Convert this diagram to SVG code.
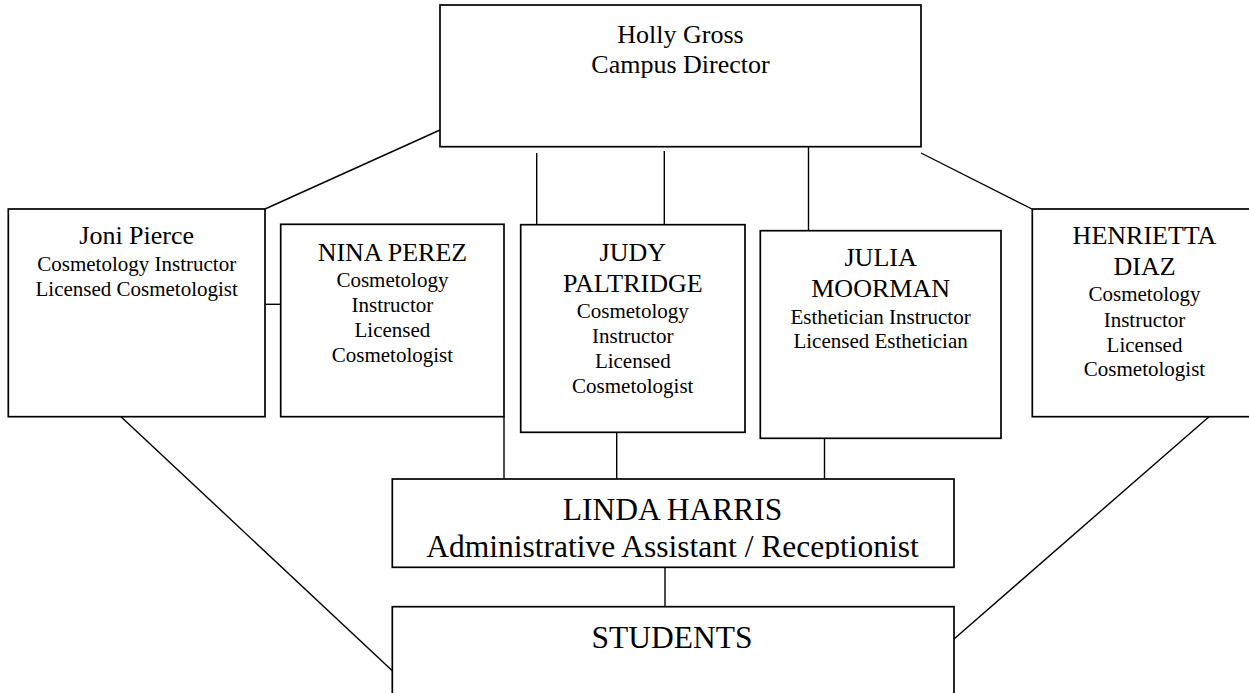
<svg xmlns="http://www.w3.org/2000/svg" width="1249" height="693" viewBox="0 0 1249 693">
<style>
.box{fill:#fff;stroke:#000;stroke-width:1.7}
.ln{stroke:#000;stroke-width:1.4;fill:none}
text{font-family:"Liberation Serif","Times New Roman",serif;fill:#000;text-anchor:middle}
.nm{font-size:26px}
.sb{font-size:21px}
.big{font-size:31.5px}
</style>
<defs>
<clipPath id="lindaClip"><rect x="393" y="479" width="561" height="80"/></clipPath>
</defs>
<rect width="1249" height="693" fill="#fff"/>
<g id="connectors">
<line class="ln" x1="440" y1="130" x2="265" y2="209"/>
<line class="ln" x1="921" y1="153" x2="1032" y2="209"/>
<line class="ln" x1="536.7" y1="153" x2="536.7" y2="224.7"/>
<line class="ln" x1="664.3" y1="151" x2="664.3" y2="224.7"/>
<line class="ln" x1="808.5" y1="146" x2="808.5" y2="230.7"/>
<line class="ln" x1="265" y1="304.3" x2="280.7" y2="304.3"/>
<line class="ln" x1="504" y1="416.7" x2="504" y2="479"/>
<line class="ln" x1="616.7" y1="432.3" x2="616.7" y2="479"/>
<line class="ln" x1="824.5" y1="438.3" x2="824.5" y2="479"/>
<line class="ln" x1="665" y1="567.3" x2="665" y2="606.7"/>
<line class="ln" x1="121" y1="416.7" x2="392.3" y2="670.7"/>
<line class="ln" x1="1209" y1="416.7" x2="954" y2="639"/>
</g>
<g id="holly">
<rect class="box" x="440" y="5" width="481" height="141.7"/>
<text class="nm" x="680.5" y="42.7">Holly Gross</text>
<text class="nm" x="680.5" y="72.7">Campus Director</text>
</g>
<g id="joni">
<rect class="box" x="8.3" y="209" width="256.7" height="207.7"/>
<text class="nm" x="136.7" y="244.3">Joni Pierce</text>
<text class="sb" x="136.7" y="271">Cosmetology Instructor</text>
<text class="sb" x="136.7" y="296">Licensed Cosmetologist</text>
</g>
<g id="nina">
<rect class="box" x="280.7" y="224.3" width="223.3" height="192.4"/>
<text class="nm" x="392.4" y="261">NINA PEREZ</text>
<text class="sb" x="392.4" y="286.7">Cosmetology</text>
<text class="sb" x="392.4" y="311.7">Instructor</text>
<text class="sb" x="392.4" y="336.7">Licensed</text>
<text class="sb" x="392.4" y="361.7">Cosmetologist</text>
</g>
<g id="judy">
<rect class="box" x="520.7" y="224.7" width="224.3" height="207.6"/>
<text class="nm" x="632.8" y="261">JUDY</text>
<text class="nm" x="632.8" y="291.7">PALTRIDGE</text>
<text class="sb" x="632.8" y="318.3">Cosmetology</text>
<text class="sb" x="632.8" y="343.3">Instructor</text>
<text class="sb" x="632.8" y="368.3">Licensed</text>
<text class="sb" x="632.8" y="392.7">Cosmetologist</text>
</g>
<g id="julia">
<rect class="box" x="760.3" y="230.7" width="240.7" height="207.6"/>
<text class="nm" x="880.6" y="265.7">JULIA</text>
<text class="nm" x="880.6" y="297.3">MOORMAN</text>
<text class="sb" x="880.6" y="324">Esthetician Instructor</text>
<text class="sb" x="880.6" y="348.3">Licensed Esthetician</text>
</g>
<g id="henrietta">
<rect class="box" x="1032.3" y="209" width="225" height="207.7"/>
<text class="nm" x="1144.5" y="244.3">HENRIETTA</text>
<text class="nm" x="1144.5" y="275">DIAZ</text>
<text class="sb" x="1144.5" y="301">Cosmetology</text>
<text class="sb" x="1144.5" y="326.7">Instructor</text>
<text class="sb" x="1144.5" y="351.7">Licensed</text>
<text class="sb" x="1144.5" y="376">Cosmetologist</text>
</g>
<g id="linda">
<rect class="box" x="392.3" y="479" width="561.7" height="88.3"/>
<g clip-path="url(#lindaClip)">
<text class="big" x="672.5" y="520">LINDA HARRIS</text>
<text class="big" x="672.5" y="557.3">Administrative Assistant / Receptionist</text>
</g>
</g>
<g id="students">
<rect class="box" x="392.3" y="606.7" width="561.7" height="100"/>
<text class="big" x="672" y="648.3">STUDENTS</text>
</g>
</svg>
